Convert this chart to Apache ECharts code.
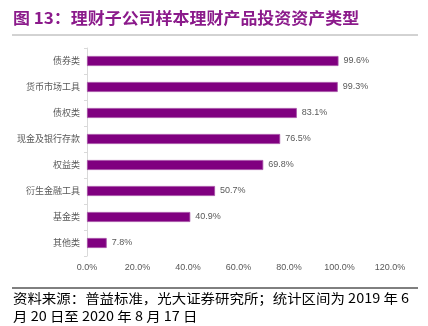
<!DOCTYPE html>
<html>
<head>
<meta charset="utf-8">
<script src="https://cdn.jsdelivr.net/npm/echarts@6/dist/echarts.min.js"></script>
<style>
html,body{margin:0;padding:0;background:#fff;}
#c{width:428px;height:326px;}
</style>
</head>
<body>
<div id="c"></div>
<script>
// Asset classes held by sample wealth-management products
const categories = ['债券类', '货币市场工具', '债权类', '现金及银行存款', '权益类', '衍生金融工具', '基金类', '其他类'];
const shares = [99.6, 99.3, 83.1, 76.5, 69.8, 50.7, 40.9, 7.8];
const xTicks = [0, 20, 40, 60, 80, 100, 120];

const titleText = '图 13：理财子公司样本理财产品投资资产类型';
const sourceLine1 = '资料来源：普益标准，光大证券研究所；统计区间为 2019 年 6';
const sourceLine2 = '月 20 日至 2020 年 8 月 17 日';

const chart = echarts.init(document.getElementById('c'), null, {renderer: 'canvas'});
const font = '"Noto Sans CJK SC", "Liberation Sans", sans-serif';

chart.setOption({
  animation: false,
  backgroundColor: '#fff',
  grid: {left: 87, right: 38, top: 48, bottom: 70, containLabel: false},
  xAxis: {
    type: 'value',
    min: xTicks[0],
    max: xTicks[xTicks.length - 1],
    interval: 20,
    axisLine: {show: false},
    axisTick: {show: false},
    splitLine: {show: false},
    axisLabel: {
      color: '#595959', fontSize: 9, fontFamily: '"Liberation Sans", sans-serif', margin: 7,
      formatter: v => v.toFixed(1) + '%'
    }
  },
  yAxis: {
    type: 'category',
    inverse: true,
    data: categories,
    axisLine: {show: true, lineStyle: {color: '#d9d9d9', width: 1}},
    axisTick: {show: true, length: 3, lineStyle: {color: '#d9d9d9'}},
    axisLabel: {color: '#595959', fontSize: 9, fontFamily: font, margin: 7}
  },
  series: [{
    type: 'bar',
    data: shares,
    barWidth: 10,
    itemStyle: {color: '#800080', borderColor: '#a54ca5', borderWidth: 0.8},
    label: {
      show: true, position: 'right', distance: 5,
      color: '#595959', fontSize: 9, fontFamily: '"Liberation Sans", sans-serif',
      formatter: p => p.value.toFixed(1) + '%'
    }
  }],
  graphic: [
    {type: 'text', x: 13, y: 10, scaleX: 1.06, originX: 0, originY: 0,
     style: {text: titleText, fill: '#8b1a8b', font: 'bold 16px ' + font}},
    {type: 'line', shape: {x1: 12, y1: 35, x2: 418, y2: 35},
     style: {stroke: '#a6a6a6', lineWidth: 1}},
    {type: 'line', shape: {x1: 12, y1: 288, x2: 418, y2: 288},
     style: {stroke: '#000', lineWidth: 1}},
    {type: 'text', x: 13, y: 292, scaleX: 1.11, originX: 0, originY: 0,
     style: {text: sourceLine1, fill: '#000', font: '13px ' + font}},
    {type: 'text', x: 13, y: 310, scaleX: 1.11, originX: 0, originY: 0,
     style: {text: sourceLine2, fill: '#000', font: '13px ' + font}}
  ]
});
</script>
</body>
</html>
